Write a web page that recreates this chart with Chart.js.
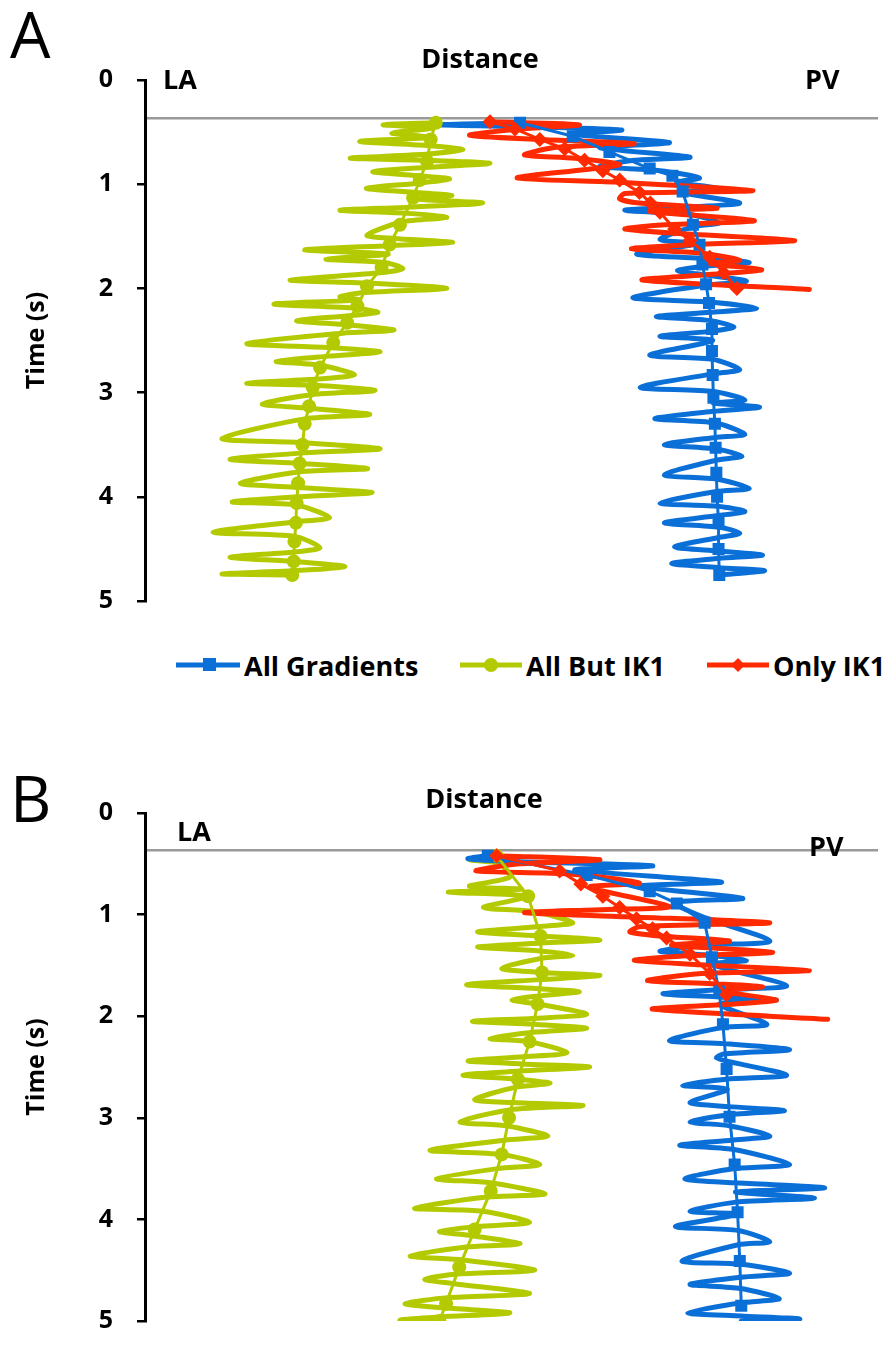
<!DOCTYPE html>
<html><head><meta charset="utf-8">
<script src="https://cdn.jsdelivr.net/npm/chart.js@4.4.1/dist/chart.umd.min.js"></script>
<style>
html,body{margin:0;padding:0;background:#fff;}
#wrap{position:relative;width:886px;height:1360px;overflow:hidden;font-family:'Open Sans',sans-serif;}
#cA{position:absolute;left:0;top:0;}
#cB{position:absolute;left:0;top:700px;}
.leg{position:absolute;top:648px;height:34px;display:flex;align-items:center;font-weight:700;font-size:27px;color:#000;white-space:nowrap;}
.leg svg{margin-right:4px;}
</style></head>
<body><div id="wrap">
<canvas id="cA" width="886" height="640"></canvas>
<div class="leg" style="left:176px"><svg width="64" height="20"><line x1="0" y1="10" x2="64" y2="10" stroke="#0B6FD8" stroke-width="5"/><rect x="27" y="3" width="13" height="13" fill="#0B6FD8"/></svg>All Gradients</div>
<div class="leg" style="left:460px"><svg width="62" height="20"><line x1="0" y1="10" x2="62" y2="10" stroke="#B3CA00" stroke-width="5"/><circle cx="31" cy="10" r="7" fill="#B3CA00"/></svg>All But IK1</div>
<div class="leg" style="left:707px"><svg width="62" height="20"><line x1="0" y1="10" x2="62" y2="10" stroke="#FF2A00" stroke-width="5"/><polygon points="31,3 38,10 31,17 24,10" fill="#FF2A00"/></svg>Only IK1</div>
<canvas id="cB" width="886" height="660"></canvas>
</div>
<script>
// ---------- data ----------
const seriesNames = ['All Gradients', 'All But IK1', 'Only IK1'];
const timeTicks = [0, 1, 2, 3, 4, 5];

// Panel A, All Gradients (trace: time s, distance)
const gradA_t = [.41,.43,.45,.48,.52,.60,.65,.74,.77,.83,.87,.94,.98,1.04,1.08,1.18,1.22,1.25,1.29,1.37,1.41,1.53,1.57,1.67,1.71,1.75,1.79,1.83,1.87,1.93,1.97,2.09,2.13,2.19,2.23,2.27,2.31,2.37,2.41,2.46,2.50,2.64,2.68,2.78,2.82,2.95,2.99,3.07,3.10,3.14,3.18,3.25,3.29,3.40,3.43,3.50,3.54,3.61,3.65,3.79,3.83,3.92,3.95,4.06,4.09,4.14,4.18,4.25,4.29,4.35,4.39,4.48,4.52,4.56,4.59,4.64,4.68,4.71,4.75];
const gradA_x = [5.12,4.02,5.39,6.51,5.80,7.16,6.21,7.44,6.68,6.21,7.03,7.57,7.26,7.84,7.34,8.12,7.40,6.55,7.44,7.84,7.48,7.03,7.55,6.71,7.57,8.25,7.60,7.27,7.63,8.21,7.65,6.66,7.70,8.35,7.71,6.98,7.72,8.04,7.74,7.03,7.75,6.89,7.75,8.12,7.75,6.76,7.76,8.19,7.76,8.39,7.76,6.96,7.78,8.19,7.79,7.09,7.79,8.15,7.79,7.09,7.80,8.25,7.80,7.03,7.82,8.19,7.82,7.09,7.83,8.12,7.83,7.23,7.83,8.43,7.84,7.19,7.84,8.46,7.84];
const gradA_markT = [.41,.54,.69,.85,.92,1.07,1.39,1.58,1.77,1.96,2.14,2.39,2.60,2.83,3.05,3.30,3.53,3.77,4.00,4.25,4.50,4.75];
const gradA_markX = [5.12,5.84,6.34,6.89,7.20,7.34,7.48,7.57,7.61,7.66,7.70,7.74,7.74,7.75,7.76,7.78,7.79,7.80,7.81,7.83,7.83,7.84];

// Panel A, All But IK1
const butA_t = [.41,.43,.46,.51,.55,.59,.63,.67,.71,.75,.77,.80,.84,.88,.92,.95,.99,1.04,1.08,1.11,1.14,1.18,1.22,1.25,1.28,1.32,1.36,1.49,1.52,1.56,1.59,1.63,1.67,1.72,1.75,1.81,1.85,1.92,1.95,2.00,2.04,2.08,2.11,2.15,2.19,2.23,2.26,2.31,2.35,2.40,2.43,2.53,2.57,2.61,2.65,2.70,2.74,2.83,2.87,2.91,2.93,2.98,3.02,3.11,3.15,3.21,3.25,3.44,3.48,3.54,3.58,3.64,3.68,3.73,3.76,3.87,3.91,3.96,4.00,4.05,4.08,4.20,4.24,4.34,4.38,4.49,4.53,4.58,4.62,4.67,4.71,4.74,4.75];
const butA_x = [3.97,3.25,3.93,3.37,3.90,2.93,3.89,4.34,3.87,2.80,3.85,4.71,3.82,3.11,3.78,4.16,3.74,3.02,3.71,4.19,3.66,4.61,3.62,2.66,3.59,4.12,3.51,3.03,3.41,4.20,3.34,2.18,3.32,2.47,3.26,3.52,3.21,1.98,3.07,4.12,2.99,2.66,2.93,1.76,2.88,3.18,2.82,2.07,2.76,3.40,2.70,1.39,2.55,3.21,2.50,1.79,2.41,2.86,2.36,1.39,2.31,3.14,2.28,1.60,2.24,3.07,2.20,1.05,2.16,3.21,2.14,1.16,2.11,3.04,2.11,1.30,2.09,3.10,2.07,1.19,2.07,2.52,2.06,0.93,2.05,2.39,2.03,1.16,2.03,2.73,2.01,1.05,2.01];
const butA_markT = [.41,.57,.78,.96,1.13,1.39,1.58,1.80,1.98,2.17,2.33,2.52,2.76,2.95,3.13,3.30,3.50,3.68,3.87,4.06,4.25,4.43,4.62,4.75];
const butA_markX = [3.97,3.90,3.85,3.75,3.66,3.48,3.34,3.23,3.03,2.90,2.76,2.57,2.39,2.29,2.24,2.18,2.15,2.11,2.09,2.07,2.06,2.04,2.03,2.01];

// Panel A, Only IK1
const ik1A_t = [.40,.43,.47,.53,.57,.61,.65,.72,.75,.81,.85,.94,.98,1.06,1.09,1.14,1.18,1.23,1.26,1.35,1.39,1.43,1.47,1.54,1.58,1.62,1.66,1.73,1.76,1.82,1.86,1.92,2.01];
const ik1A_x = [4.71,5.93,5.12,4.43,5.39,6.68,5.57,5.18,5.87,6.48,6.14,5.08,6.41,8.30,6.55,6.48,6.75,7.81,6.89,8.32,7.10,6.55,7.23,8.87,7.44,6.64,7.57,8.12,7.71,8.42,7.84,6.79,9.07];
const ik1A_markT = [.40,.47,.57,.66,.77,.87,.96,1.08,1.18,1.27,1.43,1.54,1.70,1.85,2.00];
const ik1A_markX = [4.71,5.05,5.39,5.73,6.00,6.25,6.48,6.75,6.90,7.03,7.23,7.44,7.71,7.90,8.08];

// Panel B, All Gradients
const gradB_t = [.42,.45,.48,.52,.56,.68,.72,.84,.88,1.01,1.26,1.30,1.36,1.40,1.45,1.49,1.70,1.74,1.78,1.81,1.84,1.88,2.08,2.11,2.24,2.27,2.33,2.37,2.41,2.44,2.58,2.62,2.68,2.72,2.85,2.89,2.93,2.97,3.04,3.08,3.18,3.22,3.27,3.31,3.46,3.50,3.60,3.64,3.69,3.73,3.79,3.83,3.92,3.95,4.07,4.11,4.22,4.25,4.41,4.44,4.53,4.57,4.64,4.68,4.78,4.82,4.92,4.95,4.98,5.00];
const gradB_x = [4.68,4.41,5.12,6.93,5.87,7.87,6.75,8.16,7.23,7.57,8.53,7.68,7.03,7.71,8.21,7.74,8.76,7.82,7.07,7.84,8.62,7.84,8.49,7.89,7.16,7.90,8.80,7.91,7.80,7.93,8.76,7.94,7.34,7.95,7.44,7.97,8.73,7.98,7.44,7.99,8.53,8.01,7.30,8.02,8.80,8.05,7.37,8.06,9.28,8.06,9.14,8.07,7.44,8.09,7.24,8.10,8.53,8.10,7.33,8.12,8.80,8.13,7.44,8.13,8.66,8.14,7.41,8.14,8.94,8.14];
const gradB_markT = [.42,.61,.77,.89,1.08,1.42,1.76,2.08,2.52,2.99,3.46,3.93,4.41,4.85];
const gradB_markX = [4.68,6.03,6.89,7.26,7.64,7.74,7.84,7.89,7.94,7.98,8.05,8.09,8.12,8.14];

// Panel B, All But IK1
const butB_t = [.42,.46,.50,.63,.72,.75,.78,.82,.93,.97,1.08,1.12,1.17,1.21,1.25,1.28,1.32,1.36,1.40,1.43,1.53,1.57,1.60,1.64,1.69,1.73,1.76,1.80,1.84,1.88,1.98,2.02,2.05,2.08,2.12,2.16,2.22,2.25,2.36,2.40,2.44,2.47,2.50,2.54,2.58,2.62,2.66,2.70,2.82,2.85,2.88,2.92,3.04,3.08,3.18,3.22,3.32,3.36,3.46,3.50,3.60,3.64,3.75,3.78,3.89,3.92,4.03,4.07,4.12,4.16,4.24,4.27,4.36,4.40,4.50,4.54,4.59,4.63,4.73,4.77,4.83,4.87,4.92,4.96,4.99,5.00];
const butB_x = [4.80,4.43,4.84,4.98,4.43,5.14,4.14,5.23,4.62,5.30,5.84,5.35,4.54,5.40,6.21,5.42,4.54,5.42,5.84,5.42,4.87,5.42,6.21,5.40,4.39,5.39,5.93,5.38,5.01,5.36,6.03,5.34,4.47,5.32,6.03,5.28,4.71,5.25,5.76,5.16,4.41,5.14,6.07,5.12,4.34,5.09,5.53,5.05,4.50,5.01,5.98,4.99,4.30,4.95,5.50,4.91,3.89,4.87,5.39,4.82,3.98,4.71,5.46,4.67,3.68,4.61,5.25,4.54,4.02,4.46,5.12,4.41,3.62,4.34,5.32,4.24,3.82,4.19,5.25,4.13,3.55,4.08,4.98,4.04,3.48,4.02];
const butB_markT = [.42,.82,1.21,1.57,1.88,2.25,2.62,3.00,3.36,3.72,4.10,4.47,4.83,5.00];
const butB_markX = [4.80,5.23,5.40,5.42,5.36,5.25,5.09,4.97,4.87,4.72,4.50,4.29,4.11,4.02];

// Panel B, Only IK1
const ik1B_t = [.42,.46,.50,.57,.60,.69,.73,.92,.95,.98,1.02,1.08,1.12,1.17,1.21,1.26,1.30,1.37,1.41,1.45,1.49,1.55,1.58,1.65,1.68,1.71,1.75,1.84,1.88,1.93,2.03];
const ik1B_x = [4.80,6.21,5.12,4.52,5.80,6.75,6.07,7.16,6.30,5.18,6.55,8.53,6.75,6.62,7.03,7.98,7.19,8.57,7.30,6.68,7.50,9.07,7.60,6.86,7.74,8.43,7.84,8.62,8.05,6.93,9.32];
const ik1B_markT = [.42,.57,.70,.82,.93,1.04,1.14,1.23,1.39,1.58,1.79];
const ik1B_markX = [4.80,5.66,5.95,6.25,6.48,6.71,6.93,7.12,7.44,7.71,7.94];

const axisCrossTime = 0.37;

// ---------- styling ----------
const COLORS = ['#0B6FD8', '#B3CA00', '#FF2A00'];
const MARKERS = ['rect', 'circle', 'rectRot'];
const MRAD = [8.5, 7, 7.5];
const FONT = "'Open Sans', 'Liberation Sans', sans-serif";

function pts(ts, xs) {
  const n = Math.min(ts.length, xs.length);
  const out = [];
  for (let i = 0; i < n; i++) out.push({x: xs[i], y: ts[i]});
  return out;
}
function trace(i, ts, xs) {
  return {label: seriesNames[i], data: pts(ts, xs), showLine: true, borderColor: COLORS[i],
    backgroundColor: COLORS[i], borderWidth: 5, tension: 0.25, pointRadius: 0, pointHoverRadius: 0,
    borderCapStyle: 'round', borderJoinStyle: 'round'};
}
function marks(i, ts, xs) {
  return {label: seriesNames[i] + ' markers', data: pts(ts, xs), showLine: true, borderColor: COLORS[i],
    backgroundColor: COLORS[i], borderWidth: 3, tension: 0, pointRadius: MRAD[i], pointStyle: MARKERS[i],
    pointBorderWidth: 0};
}

const labelPlugin = {
  id: 'panelLabels',
  afterDraw(chart, args, o) {
    const ctx = chart.ctx;
    ctx.save();
    ctx.fillStyle = '#000';
    ctx.textBaseline = 'alphabetic';
    ctx.textAlign = 'left';
    ctx.font = '400 64px ' + FONT;
    ctx.fillText(o.letter, o.letterX, o.letterY);
    ctx.font = '700 27px ' + FONT;
    ctx.textBaseline = 'middle';
    ctx.textAlign = 'center';
    ctx.fillText('Distance', o.distX, o.distY);
    ctx.textAlign = 'left';
    ctx.fillText('LA', o.laX, o.laY);
    ctx.fillText('PV', o.pvX, o.pvY);
    ctx.restore();
  }
};

function makeChart(id, datasets, padTop, padBottom, lbl) {
  return new Chart(document.getElementById(id), {
    type: 'scatter',
    data: {datasets},
    plugins: [labelPlugin],
    options: {
      responsive: false, animation: false, devicePixelRatio: 1,
      layout: {padding: {left: 0, right: 8, top: padTop, bottom: padBottom}},
      plugins: {legend: {display: false}, tooltip: {enabled: false}, panelLabels: lbl},
      scales: {
        x: {type: 'linear', min: 0, max: 10, position: {y: axisCrossTime},
          ticks: {display: false}, grid: {display: false},
          border: {display: true, color: '#9a9a9a', width: 2.5}},
        y: {type: 'linear', min: 0, max: 5, reverse: true, position: 'left',
          afterFit(s) { s.width = 145; },
          afterBuildTicks(s) { s.ticks = timeTicks.map(v => ({value: v})); },
          ticks: {color: '#000', padding: 24, font: {family: FONT, weight: 'bold', size: 25}},
          grid: {drawOnChartArea: false, drawTicks: true, tickLength: 8, color: '#000', lineWidth: 2.5},
          border: {display: true, color: '#000', width: 3},
          title: {display: true, text: 'Time (s)', color: '#000', padding: {top: 22, bottom: 0},
            font: {family: FONT, weight: 'bold', size: 25}}}
      }
    }
  });
}

makeChart('cA', [
  marks(2, ik1A_markT, ik1A_markX), marks(0, gradA_markT, gradA_markX), marks(1, butA_markT, butA_markX),
  trace(2, ik1A_t, ik1A_x), trace(0, gradA_t, gradA_x), trace(1, butA_t, butA_x)
], 80, 30, {letter: 'A', letterX: 10, letterY: 58, distX: 480, distY: 60, laX: 163, laY: 81, pvX: 805, pvY: 81});

makeChart('cB', [
  marks(2, ik1B_markT, ik1B_markX), marks(0, gradB_markT, gradB_markX), marks(1, butB_markT, butB_markX),
  trace(2, ik1B_t, ik1B_x), trace(0, gradB_t, gradB_x), trace(1, butB_t, butB_x)
], 113, 17, {letter: 'B', letterX: 10, letterY: 122, distX: 484, distY: 100, laX: 177, laY: 133, pvX: 809, pvY: 148});
</script>
</body></html>
